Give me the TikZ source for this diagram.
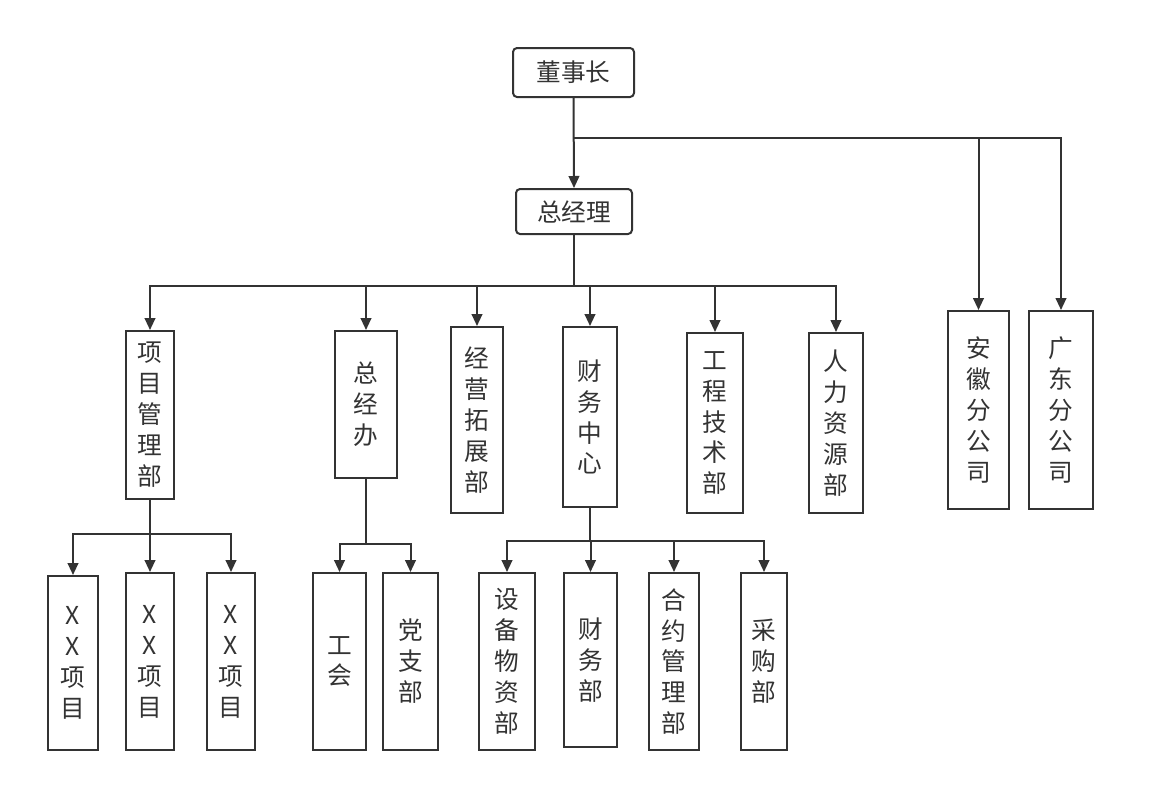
\documentclass[tikz,border=0pt]{standalone}
\usepackage{fontspec}
\setmainfont{Noto Sans CJK SC}
\usetikzlibrary{arrows.meta,fit}
\definecolor{ln}{HTML}{333333}
\begin{document}
\begin{tikzpicture}[x=0.75pt,y=-0.75pt,
  box/.style={draw=ln,line width=1.5pt,inner sep=0pt,rectangle},
  rbox/.style={box,rounded corners=3pt},
  lbl/.style={inner sep=0pt,align=center,anchor=center,text=ln,
    font=\fontsize{18.5}{23.2}\selectfont},
  conn/.style={draw=ln,line width=1.5pt},
  arr/.style={conn,-{Triangle[width=8pt,length=9pt]}}]
\useasboundingbox (0,0) rectangle (1153,811);
% boxes
\node[rbox,fit={(513,48)(634,97)}] (dsz) {};
\node[rbox,fit={(516,189)(632,234)}] (zjl) {};
\node[box,fit={(126,331)(174,499)}] (xmgl) {};
\node[box,fit={(335,331)(397,478)}] (zjb) {};
\node[box,fit={(451,327)(503,513)}] (jytz) {};
\node[box,fit={(563,327)(617,507)}] (cwzx) {};
\node[box,fit={(687,333)(743,513)}] (gcjs) {};
\node[box,fit={(809,333)(863,513)}] (rlzy) {};
\node[box,fit={(948,311)(1009,509)}] (ah) {};
\node[box,fit={(1029,311)(1093,509)}] (gd) {};
\node[box,fit={(48,576)(98,750)}] (xm1) {};
\node[box,fit={(126,573)(174,750)}] (xm2) {};
\node[box,fit={(207,573)(255,750)}] (xm3) {};
\node[box,fit={(313,573)(366,750)}] (gh) {};
\node[box,fit={(383,573)(438,750)}] (dzb) {};
\node[box,fit={(479,573)(535,750)}] (sbwz) {};
\node[box,fit={(564,573)(617,747)}] (cwb) {};
\node[box,fit={(649,573)(699,750)}] (hygl) {};
\node[box,fit={(741,573)(787,750)}] (cgb) {};
% texts
\node[lbl] (t-dsz) at (dsz.center) {董事长};
\node[lbl] (t-zjl) at (zjl.center) {总经理};
\node[lbl] (t-xmgl) at (xmgl.center) {项\\目\\管\\理\\部};
\node[lbl] (t-zjb) at (zjb.center) {总\\经\\办};
\node[lbl] (t-jytz) at (jytz.center) {经\\营\\拓\\展\\部};
\node[lbl] (t-cwzx) at (cwzx.center) {财\\务\\中\\心};
\node[lbl] (t-gcjs) at (gcjs.center) {工\\程\\技\\术\\部};
\node[lbl] (t-rlzy) at (rlzy.center) {人\\力\\资\\源\\部};
\node[lbl] (t-ah) at (ah.center) {安\\徽\\分\\公\\司};
\node[lbl] (t-gd) at (gd.center) {广\\东\\分\\公\\司};
\node[lbl] (t-xm1) at (xm1.center) {X\\X\\项\\目};
\node[lbl] (t-xm2) at (xm2.center) {X\\X\\项\\目};
\node[lbl] (t-xm3) at (xm3.center) {X\\X\\项\\目};
\node[lbl] (t-gh) at (gh.center) {工\\会};
\node[lbl] (t-dzb) at (dzb.center) {党\\支\\部};
\node[lbl] (t-sbwz) at (sbwz.center) {设\\备\\物\\资\\部};
\node[lbl] (t-cwb) at (cwb.center) {财\\务\\部};
\node[lbl] (t-hygl) at (hygl.center) {合\\约\\管\\理\\部};
\node[lbl] (t-cgb) at (cgb.center) {采\\购\\部};
% connectors
\coordinate (b0) at (574,138);
\draw[arr] (dsz.south) -- (zjl.north);
\draw[conn] (b0) -- (1061,138);
\draw[arr] (b0) -| (ah.north);
\draw[arr] (b0) -| (gd.north);
\coordinate (b1) at (574,286);
\draw[conn] (zjl.south) -- (b1);
\draw[arr] (b1) -| (xmgl.north);
\draw[arr] (b1) -| (zjb.north);
\draw[arr] (b1) -| (jytz.north);
\draw[arr] (b1) -| (cwzx.north);
\draw[arr] (b1) -| (gcjs.north);
\draw[arr] (b1) -| (rlzy.north);
\coordinate (b2) at (150,534);
\draw[conn] (xmgl.south) -- (b2);
\draw[arr] (b2) -| (xm1.north);
\draw[arr] (b2) -- (xm2.north);
\draw[arr] (b2) -| (xm3.north);
\coordinate (b3) at (366,544);
\draw[conn] (zjb.south) -- (b3);
\draw[arr] (b3) -| (gh.north);
\draw[arr] (b3) -| (dzb.north);
\coordinate (b4) at (590,541);
\draw[conn] (cwzx.south) -- (b4);
\draw[arr] (b4) -| (sbwz.north);
\draw[arr] (b4) -| (cwb.north);
\draw[arr] (b4) -| (hygl.north);
\draw[arr] (b4) -| (cgb.north);
\end{tikzpicture}
\end{document}
